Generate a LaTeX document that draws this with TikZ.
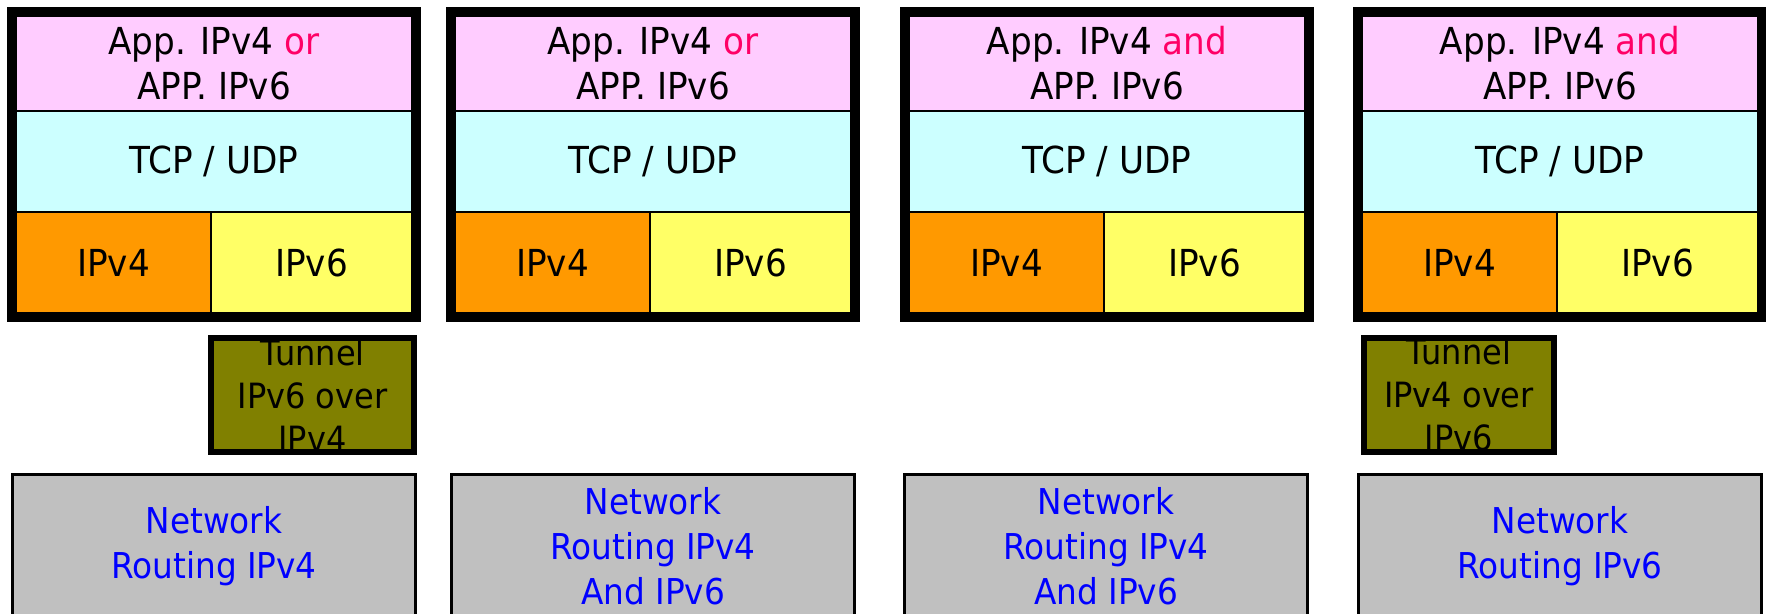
\documentclass[tikz,border=0pt]{standalone}
\usepackage{fontspec}
\setmainfont[FakeStretch=0.92]{DejaVu Sans}
\usepackage{tikz}

\definecolor{apppink}{HTML}{FFCCFF}
\definecolor{tcpcyan}{HTML}{CCFFFF}
\definecolor{vfourorange}{HTML}{FF9900}
\definecolor{vsixyellow}{HTML}{FFFF66}
\definecolor{tunolive}{HTML}{808000}
\definecolor{netgray}{HTML}{C0C0C0}
\definecolor{orred}{HTML}{FF0066}

\begin{document}
\begin{tikzpicture}[x=0.5pt,y=-0.5pt,
    cell/.style={draw,line width=1pt,inner sep=0pt,outer sep=0pt,align=center,
      font=\fontsize{18.6}{22.5}\selectfont},
    appcell/.style={cell,fill=apppink,minimum width=198pt,minimum height=47.5pt},
    tcpcell/.style={cell,fill=tcpcyan,minimum width=198pt,minimum height=50.5pt},
    vfourcell/.style={cell,fill=vfourorange,minimum width=97.5pt,minimum height=50.5pt},
    vsixcell/.style={cell,fill=vsixyellow,minimum width=100.5pt,minimum height=50.5pt},
    frame/.style={line width=4.5pt},
    tunnel/.style={fill=tunolive,inner sep=0pt,align=center,minimum width=101.5pt,
      minimum height=57pt,font=\fontsize{17.4}{21.5}\selectfont},
    tunframe/.style={line width=3pt},
    netbox/.style={draw,fill=netgray,line width=1.5pt,inner sep=0pt,align=center,
      minimum width=201.5pt,minimum height=72.5pt,text=blue,
      font=\fontsize{17.8}{22.5}\selectfont}]
  \clip (0,0) rectangle (1766,614);
  % protocol stacks
  \foreach \n/\L/\w in {1/7/or,2/446/or,3/900/and,4/1353/and}{
    \node[appcell] (app\n) at (\L+207,63.5) {App. IPv4 \textcolor{orred}{\w}\\APP. IPv6};
    \node[tcpcell] (tcp\n) at (\L+207,161.5) {TCP / UDP};
    \node[vfourcell] (vfour\n) at (\L+106.5,262.5) {IPv4};
    \node[vsixcell] (vsix\n) at (\L+304.5,262.5) {IPv6};
    \draw[frame] ([shift={(-4.5,-4.5)}]app\n.north west) rectangle ([shift={(4.5,4.5)}]vsix\n.south east);
  }
  % tunnels
  \node[tunnel] (tun1) at (312.5,395) {Tunnel\\IPv6 over\\IPv4};
  \draw[tunframe] (tun1.north west) rectangle (tun1.south east);
  \node[tunnel,minimum width=95pt] (tun4) at (1459,395) {Tunnel\\IPv4 over\\IPv6};
  \draw[tunframe] (tun4.north west) rectangle (tun4.south east);
  % routing
  \node[netbox] (net1) at (214,546.5) {Network\\Routing IPv4};
  \node[netbox] (net2) at (653,546.5) {Network\\Routing IPv4\\And IPv6};
  \node[netbox] (net3) at (1106,546.5) {Network\\Routing IPv4\\And IPv6};
  \node[netbox] (net4) at (1560,546.5) {Network\\Routing IPv6};
\end{tikzpicture}
\end{document}
